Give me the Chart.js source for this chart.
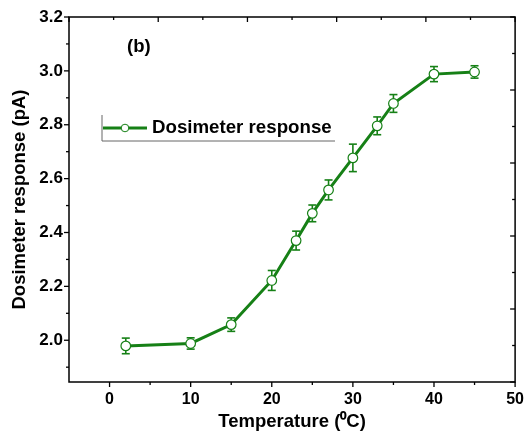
<!DOCTYPE html>
<html>
<head>
<meta charset="utf-8">
<script src="https://cdn.jsdelivr.net/npm/chart.js@4.4.0/dist/chart.umd.min.js"></script>
<style>
  html, body { margin: 0; padding: 0; background: #fff; }
  #wrap { width: 532px; height: 441px; }
</style>
</head>
<body>
<div id="wrap"><canvas id="chart" width="532" height="441"></canvas></div>
<script>
// Dosimeter response vs temperature, panel (b)
const temperature = [2, 10, 15, 20, 23, 25, 27, 30, 33, 35, 40, 45];
const response = [1.979, 1.988, 2.058, 2.222, 2.370, 2.471, 2.558, 2.677, 2.796, 2.879, 2.988, 2.996];
const responseErr = [0.029, 0.021, 0.025, 0.037, 0.035, 0.031, 0.037, 0.051, 0.033, 0.033, 0.028, 0.023];

const xTicks = [0, 10, 20, 30, 40, 50];
const xMinorTicks = [5, 15, 25, 35, 45];
const yTicks = [2.0, 2.2, 2.4, 2.6, 2.8, 3.0, 3.2];
const yMinorTicks = [1.9, 2.1, 2.3, 2.5, 2.7, 2.9, 3.1];
// top and right frame axes have their own 10-step ticking in the original
const frameTicks = [0, 1, 2, 3, 4, 5, 6, 7, 8, 9, 10];

const green = 'rgb(22,128,22)';
const fontFamily = "Arial, 'Liberation Sans', sans-serif";

function line(ctx, x1, y1, x2, y2) {
  ctx.beginPath();
  ctx.moveTo(x1, y1);
  ctx.lineTo(x2, y2);
  ctx.stroke();
}

// error bars under the markers
const errorBars = {
  id: 'errorBars',
  beforeDatasetsDraw(chart) {
    const ctx = chart.ctx, xs = chart.scales.x, ys = chart.scales.y;
    ctx.save();
    ctx.strokeStyle = green;
    ctx.lineWidth = 1.6;
    temperature.forEach((t, i) => {
      const px = xs.getPixelForValue(t);
      const top = ys.getPixelForValue(response[i] + responseErr[i]);
      const bot = ys.getPixelForValue(response[i] - responseErr[i]);
      line(ctx, px, top, px, bot);
      line(ctx, px - 4, top, px + 4, top);
      line(ctx, px - 4, bot, px + 4, bot);
    });
    ctx.restore();
  }
};

// frame, tick marks, legend and panel label
const decorations = {
  id: 'decorations',
  afterDraw(chart) {
    const ctx = chart.ctx, a = chart.chartArea;
    const xs = chart.scales.x, ys = chart.scales.y, x2 = chart.scales.x2, y2 = chart.scales.y2;
    ctx.save();
    ctx.strokeStyle = '#000';
    ctx.lineWidth = 1.5;
    ctx.strokeRect(a.left, a.top, a.right - a.left, a.bottom - a.top);

    ctx.lineWidth = 1.3;
    xTicks.forEach(v => { const p = xs.getPixelForValue(v); line(ctx, p, a.bottom, p, a.bottom + 5); });
    xMinorTicks.forEach(v => { const p = xs.getPixelForValue(v); line(ctx, p, a.bottom, p, a.bottom + 3); });
    yTicks.forEach(v => { const p = ys.getPixelForValue(v); line(ctx, a.left, p, a.left - 5, p); });
    yMinorTicks.forEach(v => { const p = ys.getPixelForValue(v); line(ctx, a.left, p, a.left - 3, p); });
    frameTicks.forEach(v => {
      const len = v % 2 === 0 ? 5 : 3;
      const px = x2.getPixelForValue(v);
      line(ctx, px, a.top, px, a.top + len);
      const py = y2.getPixelForValue(v);
      line(ctx, a.right, py, a.right - len, py);
    });

    // legend
    const lx = a.left + 33, ly = a.top + 111;
    ctx.strokeStyle = '#666';
    ctx.lineWidth = 1;
    line(ctx, lx, a.top + 98, lx, a.top + 124);
    line(ctx, lx, a.top + 124, a.left + 266, a.top + 124);
    ctx.strokeStyle = green;
    ctx.lineWidth = 3;
    line(ctx, lx + 1, ly, lx + 45, ly);
    ctx.fillStyle = '#fff';
    ctx.lineWidth = 1;
    ctx.beginPath();
    ctx.arc(lx + 23, ly, 3.8, 0, Math.PI * 2);
    ctx.fill();
    ctx.stroke();
    ctx.fillStyle = '#000';
    ctx.textBaseline = 'middle';
    ctx.font = 'bold 18.7px ' + fontFamily;
    ctx.fillText(chart.data.datasets[0].label, lx + 50, ly);

    ctx.font = 'bold 18.5px ' + fontFamily;
    ctx.fillText('(b)', a.left + 58, a.top + 30);
    ctx.restore();
  }
};

new Chart(document.getElementById('chart'), {
  type: 'line',
  data: {
    datasets: [{
      label: 'Dosimeter response',
      data: temperature.map((t, i) => ({ x: t, y: response[i] })),
      borderColor: green,
      borderWidth: 3,
      tension: 0,
      pointRadius: 4.8,
      pointBackgroundColor: '#fff',
      pointBorderColor: green,
      pointBorderWidth: 1.2
    }]
  },
  options: {
    responsive: false,
    animation: false,
    layout: { padding: { left: 0, right: 11, top: 17, bottom: 0 } },
    plugins: { legend: { display: false }, tooltip: { enabled: false } },
    scales: {
      x: {
        type: 'linear',
        min: -5,
        max: 50,
        afterBuildTicks: s => { s.ticks = xTicks.map(v => ({ value: v })); },
        afterFit: s => { s.height = 59; },
        grid: { display: false, drawTicks: false },
        border: { display: false },
        ticks: { color: '#000', padding: 8, maxRotation: 0, font: { family: fontFamily, size: 16, weight: 'bold' } },
        title: {
          display: true,
          text: 'Temperature (\u2070C)',
          color: '#000',
          font: { family: fontFamily, size: 18.5, weight: 'bold' },
          padding: { top: 0, bottom: 8 }
        }
      },
      y: {
        type: 'linear',
        min: 1.845,
        max: 3.2,
        afterBuildTicks: s => { s.ticks = yTicks.map(v => ({ value: v })); },
        afterFit: s => { s.width = 69; },
        grid: { display: false, drawTicks: false },
        border: { display: false },
        ticks: { color: '#000', padding: 6, callback: v => v.toFixed(1), font: { family: fontFamily, size: 17, weight: 'bold' } },
        title: {
          display: true,
          text: 'Dosimeter response (pA)',
          color: '#000',
          font: { family: fontFamily, size: 18.5, weight: 'bold' },
          padding: { top: 9, bottom: 0 }
        }
      },
      x2: { type: 'linear', position: 'top', display: false, min: 0, max: 10 },
      y2: { type: 'linear', position: 'right', display: false, min: 0, max: 10 }
    }
  },
  plugins: [errorBars, decorations]
});
</script>
</body>
</html>
